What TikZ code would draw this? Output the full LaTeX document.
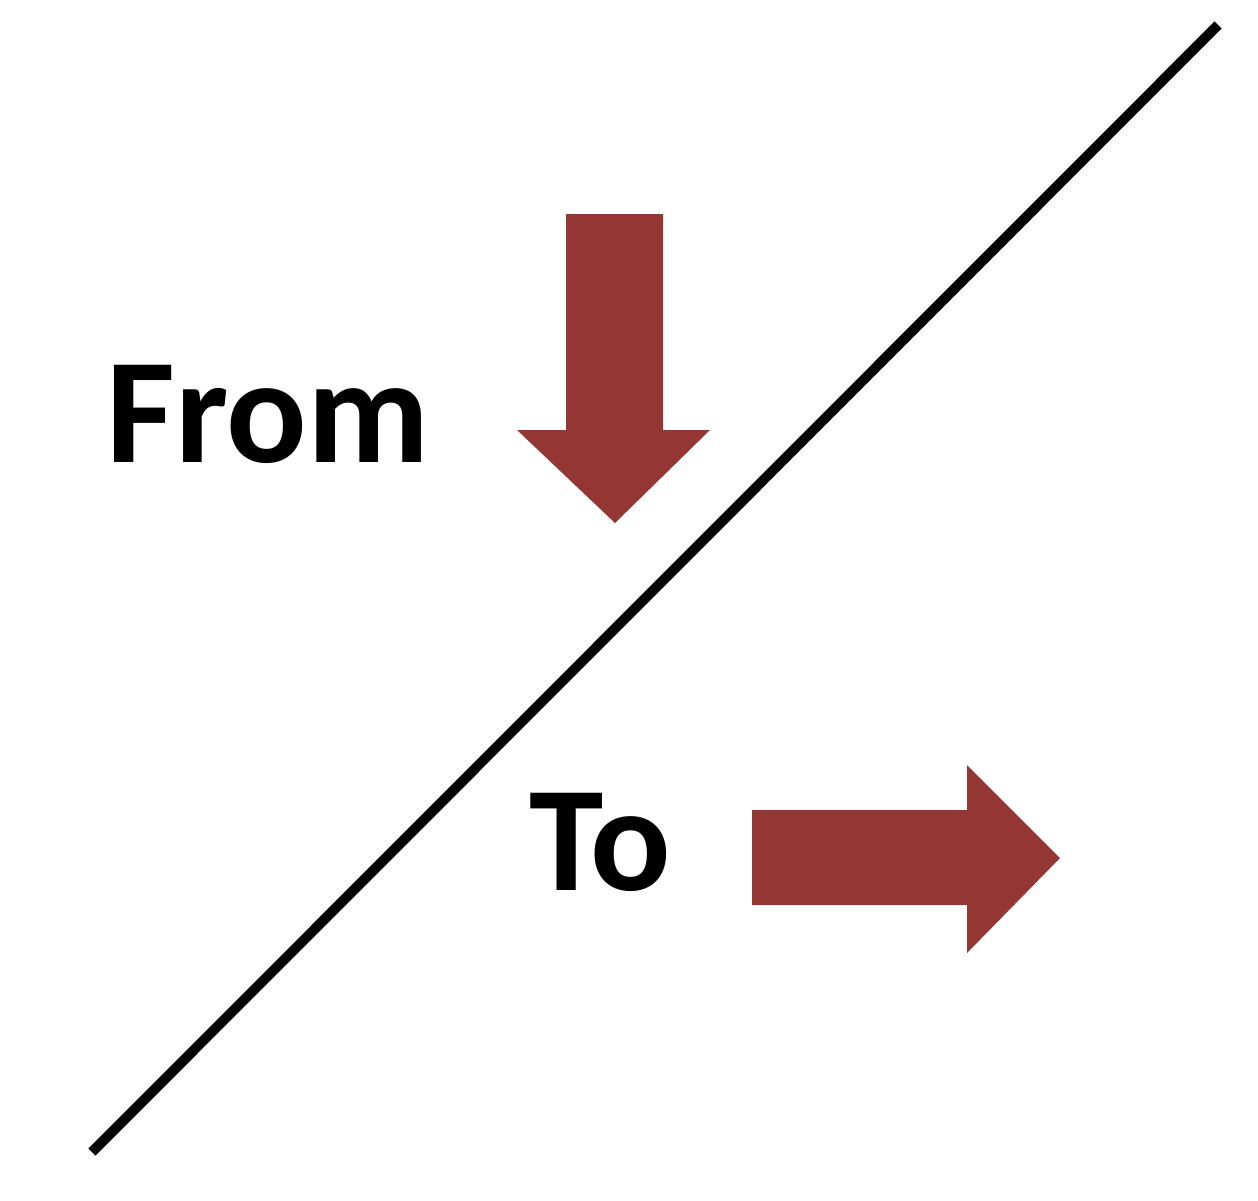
\documentclass[tikz,border=0pt]{standalone}
\usepackage{fontspec}
\setmainfont{Carlito}
\definecolor{arrowred}{RGB}{148,54,52}
\begin{document}
\begin{tikzpicture}[x=1pt,y=-1pt,
  label/.style={font=\fontsize{150}{150}\selectfont\bfseries, inner sep=0pt, anchor=base west, text=black},
  blockarrow/.style={fill=arrowred, draw=none},
  divider/.style={line width=10pt, draw=black}]
\useasboundingbox (0,0) rectangle (1258,1200);
% divider line
\coordinate (lineA) at (92,1152);
\coordinate (lineB) at (1218,25);
\draw[divider] (lineA) -- (lineB);
% down arrow
\fill[blockarrow] (566,214) -- (663,214) -- (663,430) -- (710,430) -- (615,523) -- (517,430) -- (566,430) -- cycle;
% right arrow
\fill[blockarrow] (752,810) -- (967,810) -- (967,765) -- (1060,858) -- (967,953) -- (967,905) -- (752,905) -- cycle;
% labels
\node[label] (from) at (106,462) {From};
\node[label] (to) at (529,890) {To};
\end{tikzpicture}
\end{document}
